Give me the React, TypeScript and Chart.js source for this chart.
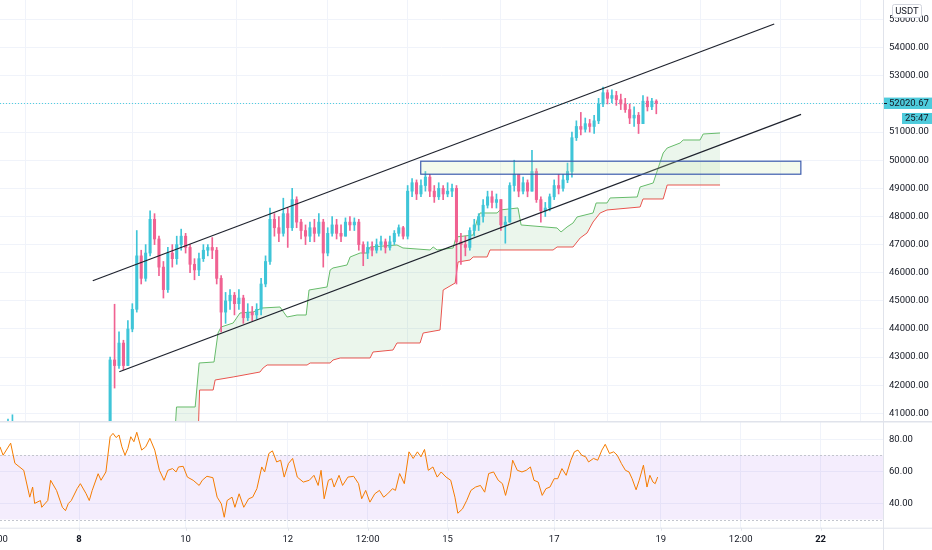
import React, { useEffect, useRef } from 'react';
import { Chart, registerables } from 'chart.js';

Chart.register(...registerables);

// ---------- candles (2-hour bars, hour 0 = day 8 00:00) ----------
const FIRST_HOUR = -36;
const HOUR_STEP = 2;
const FIRST_OPEN = 40200;
const closes = [
  40300, 40450, 40600, 40700, 40200, 39900, 39500, 39200, 39300, 38900,
  38500, 38800, 39100, 38600, 38300, 38700, 39000, 38600, 38300, 38500,
  38900, 38700, 38900, 39200, 39600, 42900, 42700, 43500, 42700, 44000,
  44700, 46600, 45800, 46700, 47900, 47200, 46200, 45400, 46700, 46500,
  47000, 47300, 46900, 46300, 46100, 46500, 46800, 46900, 46800, 45800,
  44600, 45000, 45200, 44900, 45100, 44400, 44600, 44500, 44700, 45600,
  46400, 47900, 47600, 47400, 48100, 47600, 48600, 47800, 47500, 47300,
  47600, 47400, 47800, 46700, 47400, 47700, 47400, 47300, 47800, 47700,
  47800, 47000, 46700, 46900, 46800, 47000, 47100, 46900, 47100, 47400,
  47600, 47300, 48900, 49200, 48800, 49100, 49400, 48900, 48700, 49000,
  48800, 48900, 49000, 47100, 47000, 46900, 47500, 47700, 48000, 48400,
  48700, 48500, 48600, 47700, 47800, 49100, 49500, 48900, 49200, 48900,
  49600, 48600, 48200, 48300, 48700, 49100, 49000, 49300, 49600, 50800,
  51200, 51100, 51300, 51200, 51400, 52000, 52400, 52200, 52300, 52150,
  52000, 51800, 51500, 51600, 51300, 52100, 51900, 52100, 52020.67,
];
const highs = [
  40550, 40600, 40800, 40950, 40720, 40300, 39950, 39600, 39500, 39400,
  39000, 39000, 39300, 39200, 38700, 38900, 39200, 39100, 38700, 38700,
  39100, 39000, 39300, 39500, 40000, 43000, 44880, 43900, 43600, 44300,
  44900, 47500, 46800, 47000, 48200, 48100, 47300, 46400, 46900, 47000,
  47300, 47550, 47400, 47000, 46500, 46700, 47000, 47000, 47250, 46900,
  45900, 45300, 45400, 45300, 45400, 45200, 44900, 44800, 44900, 45800,
  46600, 48300, 48100, 48000, 48650, 48300, 49000, 48700, 47900, 47700,
  47800, 47900, 48100, 47900, 47600, 48000, 47900, 47700, 47950, 48000,
  47950, 47900, 47100, 47100, 47100, 47200, 47300, 47200, 47300, 47500,
  47700, 47650, 49100, 49350, 49300, 49300, 49600, 49500, 49100, 49200,
  49100, 49200, 49150, 49100, 47400, 47300, 47600, 47900, 48100, 48600,
  48900, 48900, 48800, 48600, 48000, 49200, 50000, 49500, 49400, 49300,
  50350, 49700, 48700, 48500, 48800, 49300, 49500, 49500, 49900, 51000,
  51400, 51700, 51500, 51450, 51600, 52200, 52600, 52500, 52500, 52450,
  52350, 52200, 52000, 51900, 51700, 52300, 52250, 52200, 52150,
];
const lows = [
  40100, 40200, 40350, 40450, 40000, 39700, 39300, 38900, 38800, 38600,
  38200, 38300, 38700, 38400, 37900, 38100, 38600, 38300, 37990, 38100,
  38400, 38400, 38600, 38800, 39000, 39500, 41900, 42600, 42550, 42700,
  43900, 44600, 45600, 45700, 46600, 47000, 45900, 45100, 45300, 46200,
  46300, 46800, 46700, 46000, 45750, 45900, 46400, 46600, 46500, 45600,
  43900, 44200, 44700, 44500, 44700, 44200, 44300, 44300, 44350, 44500,
  45500, 46300, 47300, 47100, 47300, 46900, 47500, 47600, 47200, 47000,
  47100, 47100, 47300, 46200, 46600, 47300, 47200, 47100, 47300, 47500,
  47500, 46800, 46250, 46500, 46600, 46700, 46800, 46700, 46800, 47000,
  47300, 47200, 47200, 48700, 48600, 48700, 48900, 48700, 48500, 48600,
  48600, 48700, 48700, 45600, 46300, 46600, 46800, 47300, 47500, 47800,
  48300, 48300, 48300, 47500, 47050, 47800, 48900, 48700, 48800, 48700,
  48900, 48500, 47800, 48000, 48200, 48600, 48800, 48900, 49200, 49400,
  50700, 50900, 51000, 51000, 50950, 51300, 51900, 52000, 52050, 51950,
  51800, 51700, 51300, 51200, 50950, 51300, 51750, 51800, 51650,
];

// ---------- Ichimoku cloud (leading spans) ----------
const spanAHours = [
  43.2, 43.9, 52.3, 54.1, 60.8, 62.6, 64, 69.4, 72.5, 78.4,
  82.4, 90.5, 93.7, 98.2, 102.3, 103.6, 111.7, 113.1, 114.4, 120.7,
  122.1, 126.6, 129.7, 131.1, 143.2, 145.9, 158.1, 159.5, 161.3, 168.5,
  169.8, 177.5, 179.3, 180.6, 188.3, 189.6, 197.7, 199.1, 215.3, 217.1,
  219.8, 222.5, 224.3, 231.5, 232.9, 237.8, 239.2, 251.4, 252.7, 258.6,
  263.1, 264.9, 270.7, 272.1, 279.7, 281.1, 288.7,
];
const spanAValues = [
  40300, 41227, 41227, 42791, 42827, 43857, 44071, 44213, 44568, 44604,
  44746, 44782, 44426, 44497, 44497, 45386, 45493, 46098, 46169, 46275,
  46560, 46702, 46702, 46915, 46987, 46880, 46809, 46915, 46809, 46880,
  47271, 47342, 47875, 48124, 48124, 48231, 48302, 47698, 47591, 47449,
  47627, 47769, 47982, 48124, 48480, 48480, 48658, 48693, 49049, 49191,
  50257, 50434, 50612, 50719, 50719, 50932, 50968,
];
const spanBHours = [
  43.2, 53.6, 54.3, 60.4, 61.3, 69.4, 81.5, 82.9, 84.7, 102.7,
  104.1, 113.1, 114.4, 117.6, 131.1, 132.4, 141.4, 143.2, 153.6, 155,
  162.6, 164, 169.4, 170.7, 176.1, 177.5, 183.8, 185.1, 213.5, 215.3,
  222.5, 225.7, 228.8, 231.5, 234.7, 237.8, 252.7, 254, 263.1, 264.9,
  288.7,
];
const spanBValues = [
  39900, 40100, 41831, 41831, 42187, 42294, 42471, 42614, 42720, 42720,
  42791, 42791, 42898, 42969, 42969, 43182, 43253, 43502, 43502, 43857,
  43964, 45386, 45635, 46382, 46453, 46560, 46560, 46809, 46809, 46915,
  46915, 47235, 47413, 47804, 48124, 48231, 48337, 48622, 48622, 49119,
  49119,
];

// ---------- RSI ----------
const rsiHours = [
  -35.6, -34.2, -30.8, -28.9, -24.9, -22.2, -20.9, -20.0, -17.4, -16.8,
  -14.1, -12.8, -10.1, -7.5, -6.1, -4.8, -3.5, -0.8, 0.6, 3.2,
  4.6, 5.9, 8.6, 9.9, 12.1, 14.0, 15.3, 16.7, 18.0, 19.3,
  20.7, 22.0, 23.3, 24.7, 26.0, 28.2, 30.0, 31.9, 34.1, 36.2,
  38.3, 40.0, 42.1, 43.7, 44.8, 46.9, 48.8, 51.4, 54.1, 55.5,
  57.6, 60.3, 62.2, 64.1, 65.4, 66.7, 68.9, 70.2, 72.1, 74.2,
  76.4, 78.2, 80.1, 82.3, 83.6, 85.5, 87.1, 89.0, 90.8, 92.4,
  94.3, 96.2, 98.3, 101.0, 103.7, 105.8, 107.7, 109.0, 110.4, 112.3,
  113.8, 114.9, 117.1, 118.7, 121.1, 123.7, 125.9, 127.3, 129.1, 131.0,
  133.2, 135.3, 137.2, 139.0, 141.2, 142.5, 144.4, 146.5, 148.6, 150.5,
  152.4, 154.0, 155.6, 157.3, 159.4, 161.3, 163.1, 165.3, 167.4, 169.3,
  170.6, 172.7, 174.6, 176.5, 178.6, 180.8, 182.7, 184.5, 186.7, 188.8,
  190.7, 192.1, 194.2, 195.3, 197.4, 199.5, 201.4, 203.3, 204.9, 206.8,
  208.6, 210.3, 212.1, 214.0, 215.6, 217.5, 219.4, 221.5, 223.1, 224.7,
  226.4, 228.2, 229.5, 231.7, 233.6, 235.5, 237.0, 238.9, 240.8, 242.4,
  244.3, 246.1, 247.7, 249.1, 250.9, 252.3, 254.2, 255.8, 257.1, 258.5,
  259.5, 260.6,
];
const rsiValues = [
  75.2, 70, 77.5, 65, 60.6, 43.9, 50.2, 40, 41.8, 37.6,
  41.8, 54.4, 48, 37.6, 35.5, 40, 41.8, 49.3, 52.3, 46,
  41.8, 48, 58.5, 54.4, 59.6, 81.5, 83.6, 81, 82.6, 75.2,
  70, 74.2, 81.5, 78.4, 84.3, 73.2, 75.2, 80.5, 73.2, 60.6,
  54.4, 60.6, 61.7, 59.6, 62.7, 63.1, 56.4, 54.4, 51.2, 54.4,
  56.9, 56, 43.9, 39.7, 31.4, 41.8, 43.9, 37.6, 46, 37.6,
  42.9, 43.9, 49.2, 62.7, 59.6, 71.1, 72.7, 65.8, 66.9, 56.4,
  64.8, 68, 56.4, 53.3, 54.4, 57.5, 51.2, 60.6, 42.9, 54.4,
  55.4, 50.2, 57.5, 51.2, 56.4, 56.9, 52.3, 42.9, 48.1, 40.8,
  46, 48.1, 43.9, 46, 49.2, 48.1, 58.6, 52.3, 72.1, 68,
  72.1, 69, 73.6, 60.6, 62.7, 56.4, 59.6, 56.4, 54.4, 43.9,
  33.9, 36.6, 41.8, 48.1, 50.2, 51.2, 47, 58.6, 59.6, 54.4,
  52.3, 45, 56.4, 66.9, 60.6, 59.6, 60.6, 62.7, 54.4, 53.3,
  45, 49.2, 50.2, 55.4, 55.4, 61.7, 57.5, 66.9, 72.1, 73.2,
  70, 69, 65.8, 68, 66.9, 73.2, 76.8, 71.1, 72.1, 70,
  64.8, 60.6, 59.6, 55.4, 48.5, 54.4, 63.8, 50.2, 57.5, 53.3,
  52.3, 56.4,
];

// ---------- drawings ----------
const trendUpper = [[6.17, 45717], [313.1, 54843]];
const trendLower = [[18.15, 42482], [325.2, 51632]];
const boxHours = [153.9, 325.1];
const boxPrices = [49503, 49965];

// ---------- axes ----------
const PRICE_TICKS = [41000, 42000, 43000, 44000, 45000, 46000, 47000, 48000, 49000, 50000, 51000, 52000, 53000, 54000, 55000];
const RSI_TICKS = [40, 60, 80];
const TIME_TICK_HOURS = [-37.4, 0, 48, 94, 130, 166, 214, 262, 298, 334];
const TIME_TICK_LABELS = ['12:00', '8', '10', '12', '12:00', '15', '17', '19', '12:00', '22'];
const BOLD_LABELS = ['8', '22'];
const GRID_HOURS = [0, 48, 94, 130, 166, 214, 262, 298, 334];
const COUNTDOWN = '25:47';
const CURRENCY = 'USDT';

const X_MIN = -35.6;
const X_MAX = 362.1;
const P_MIN = 40729;
const P_MAX = 55696;
const R_MIN = 24.9;
const R_MAX = 91.3;

const UP = '#3fc5d8';
const DOWN = '#f06292';
const FONT = 'Roboto, "Noto Sans", sans-serif';
const TEXT = '#131722';
const GRID = '#f0f3fa';
const BORDER = '#e0e3eb';

export default function App() {
  const mainRef = useRef<HTMLCanvasElement>(null);
  const rsiRef = useRef<HTMLCanvasElement>(null);

  useEffect(() => {
    const hours = closes.map((_, i) => FIRST_HOUR + i * HOUR_STEP);
    const opens = closes.map((_, i) => (i === 0 ? FIRST_OPEN : closes[i - 1]));
    const colors = closes.map((c, i) => (c >= opens[i] ? UP : DOWN));
    const lastClose = closes[closes.length - 1];

    const bodies = hours.map((h, i) => ({ x: h, y: [opens[i], closes[i]] }));
    const wicks = hours.map((h, i) => ({ x: h, y: [lows[i], highs[i]] }));

    const mainPlugin = {
      id: 'mainDecor',
      beforeDatasetsDraw(chart: any) {
        const { ctx, chartArea, scales } = chart;
        const py = Math.round(scales.y.getPixelForValue(lastClose)) + 0.5;
        ctx.save();
        ctx.strokeStyle = '#4fcfdf';
        ctx.lineWidth = 1;
        ctx.setLineDash([1, 2]);
        ctx.beginPath();
        ctx.moveTo(chartArea.left, py);
        ctx.lineTo(chartArea.right, py);
        ctx.stroke();
        ctx.restore();
      },
      afterDatasetsDraw(chart: any) {
        const { ctx, scales } = chart;
        const x1 = scales.x.getPixelForValue(boxHours[0]);
        const x2 = scales.x.getPixelForValue(boxHours[1]);
        const y1 = scales.y.getPixelForValue(boxPrices[1]);
        const y2 = scales.y.getPixelForValue(boxPrices[0]);
        ctx.save();
        ctx.fillStyle = 'rgba(200,232,175,0.22)';
        ctx.fillRect(x1, y1, x2 - x1, y2 - y1);
        ctx.strokeStyle = '#3d5cae';
        ctx.lineWidth = 1.2;
        ctx.strokeRect(x1, y1, x2 - x1, y2 - y1);
        ctx.restore();
      },
      afterDraw(chart: any) {
        const { ctx, chartArea, scales } = chart;
        ctx.save();
        ctx.font = `9.5px ${FONT}`;
        ctx.fillStyle = TEXT;
        ctx.textAlign = 'left';
        ctx.textBaseline = 'middle';
        PRICE_TICKS.forEach((v) => {
          ctx.fillText(v.toFixed(2), chartArea.right + 6, scales.y.getPixelForValue(v));
        });
        // currency box
        ctx.fillStyle = '#ffffff';
        ctx.strokeStyle = '#d1d4dc';
        ctx.lineWidth = 1;
        ctx.beginPath();
        if ((ctx as any).roundRect) (ctx as any).roundRect(892.5, 4.5, 29, 13, 2);
        else ctx.rect(892.5, 4.5, 29, 13);
        ctx.fill();
        ctx.stroke();
        ctx.fillStyle = TEXT;
        ctx.textAlign = 'center';
        ctx.fillText(CURRENCY, 907, 11.5);
        // price label
        const py = scales.y.getPixelForValue(lastClose);
        ctx.fillStyle = '#4ecbdc';
        ctx.fillRect(chartArea.right + 1, py - 5.8, 932 - chartArea.right - 1, 11.4);
        ctx.fillRect(902, py + 9.6, 30, 11);
        ctx.strokeStyle = TEXT;
        ctx.beginPath();
        ctx.moveTo(chartArea.right + 1, Math.round(py) + 0.5);
        ctx.lineTo(chartArea.right + 4, Math.round(py) + 0.5);
        ctx.stroke();
        ctx.fillStyle = TEXT;
        ctx.textAlign = 'left';
        ctx.fillText(lastClose.toFixed(2), chartArea.right + 6, py);
        ctx.fillText(COUNTDOWN, 905, py + 15.2);
        ctx.restore();
      },
    };

    const mainChart = new Chart(mainRef.current as HTMLCanvasElement, {
      type: 'bar',
      data: {
        datasets: [
          {
            type: 'line',
            data: trendUpper.map(([x, y]) => ({ x, y })),
            borderColor: '#1e222d',
            borderWidth: 1.2,
            pointRadius: 0,
            clip: 0,
            order: 0,
          },
          {
            type: 'line',
            data: trendLower.map(([x, y]) => ({ x, y })),
            borderColor: '#1e222d',
            borderWidth: 1.2,
            pointRadius: 0,
            clip: 0,
            order: 0,
          },
          {
            type: 'bar',
            data: bodies,
            backgroundColor: colors,
            barThickness: 2.4,
            minBarLength: 1,
            grouped: false,
            borderWidth: 0,
            clip: 0,
            order: 1,
          },
          {
            type: 'bar',
            data: wicks,
            backgroundColor: colors,
            barThickness: 1,
            grouped: false,
            borderWidth: 0,
            clip: 0,
            order: 2,
          },
          {
            type: 'line',
            data: spanAHours.map((x, i) => ({ x, y: spanAValues[i] })),
            borderColor: '#66bb6a',
            borderWidth: 1,
            pointRadius: 0,
            fill: { target: 5, above: 'rgba(76,175,80,0.11)', below: 'rgba(244,67,54,0.08)' },
            clip: 0,
            order: 3,
          },
          {
            type: 'line',
            data: spanBHours.map((x, i) => ({ x, y: spanBValues[i] })),
            borderColor: '#ef5350',
            borderWidth: 1,
            pointRadius: 0,
            fill: false,
            clip: 0,
            order: 3,
          },
        ] as any,
      },
      options: {
        responsive: false,
        animation: false,
        events: [],
        layout: { padding: 0 },
        plugins: { legend: { display: false }, tooltip: { enabled: false } },
        scales: {
          x: {
            type: 'linear',
            min: X_MIN,
            max: X_MAX,
            offset: false,
            ticks: { display: false },
            grid: { color: GRID, drawTicks: false },
            border: { display: false },
            afterBuildTicks: (s: any) => {
              s.ticks = GRID_HOURS.map((v) => ({ value: v }));
            },
            afterFit: (s: any) => {
              s.height = 0;
            },
          },
          y: {
            type: 'linear',
            position: 'right',
            min: P_MIN,
            max: P_MAX,
            ticks: { display: false },
            grid: { color: GRID, drawTicks: false },
            border: { display: true, color: BORDER },
            afterBuildTicks: (s: any) => {
              s.ticks = PRICE_TICKS.map((v) => ({ value: v }));
            },
            afterFit: (s: any) => {
              s.width = 49;
            },
          },
        },
      } as any,
      plugins: [mainPlugin],
    });

    const rsiPlugin = {
      id: 'rsiDecor',
      beforeDatasetsDraw(chart: any) {
        const { ctx, chartArea, scales } = chart;
        const y70 = scales.y.getPixelForValue(70);
        const y30 = scales.y.getPixelForValue(30);
        ctx.save();
        ctx.fillStyle = 'rgba(149,76,233,0.1)';
        ctx.fillRect(chartArea.left, y70, chartArea.right - chartArea.left, y30 - y70);
        ctx.strokeStyle = '#c3c6ce';
        ctx.lineWidth = 1;
        ctx.setLineDash([2, 2]);
        [y70, y30].forEach((yy) => {
          ctx.beginPath();
          ctx.moveTo(chartArea.left, Math.round(yy) + 0.5);
          ctx.lineTo(chartArea.right, Math.round(yy) + 0.5);
          ctx.stroke();
        });
        ctx.restore();
      },
      afterDraw(chart: any) {
        const { ctx, chartArea, scales, width, height } = chart;
        ctx.save();
        // separators
        ctx.fillStyle = BORDER;
        ctx.fillRect(0, 0, width, 1.5);
        ctx.fillRect(0, chartArea.bottom, width, 1);
        ctx.fillRect(chartArea.right, 0, 1, height);
        ctx.font = `9.5px ${FONT}`;
        ctx.fillStyle = TEXT;
        ctx.textAlign = 'left';
        ctx.textBaseline = 'middle';
        RSI_TICKS.forEach((v) => {
          ctx.fillText(v.toFixed(2), chartArea.right + 6, scales.y.getPixelForValue(v));
        });
        ctx.textAlign = 'center';
        TIME_TICK_HOURS.forEach((h, i) => {
          const px = scales.x.getPixelForValue(h);
          const lab = TIME_TICK_LABELS[i];
          ctx.fillStyle = BORDER;
          if (px > 0) ctx.fillRect(Math.round(px), chartArea.bottom, 1, 3);
          ctx.fillStyle = TEXT;
          ctx.font = `${BOLD_LABELS.includes(lab) ? 'bold ' : ''}9.5px ${FONT}`;
          ctx.fillText(lab, px, chartArea.bottom + 11.5);
        });
        ctx.restore();
      },
    };

    const rsiChart = new Chart(rsiRef.current as HTMLCanvasElement, {
      type: 'line',
      data: {
        datasets: [
          {
            data: rsiHours.map((x, i) => ({ x, y: rsiValues[i] })),
            borderColor: '#f57c00',
            borderWidth: 1,
            pointRadius: 0,
            fill: false,
            clip: 0,
          },
        ],
      },
      options: {
        responsive: false,
        animation: false,
        events: [],
        layout: { padding: 0 },
        plugins: { legend: { display: false }, tooltip: { enabled: false } },
        scales: {
          x: {
            type: 'linear',
            min: X_MIN,
            max: X_MAX,
            offset: false,
            ticks: { display: false },
            grid: { color: GRID, drawTicks: false },
            border: { display: false },
            afterBuildTicks: (s: any) => {
              s.ticks = GRID_HOURS.map((v) => ({ value: v }));
            },
            afterFit: (s: any) => {
              s.height = 22.3;
            },
          },
          y: {
            type: 'linear',
            position: 'right',
            min: R_MIN,
            max: R_MAX,
            ticks: { display: false },
            grid: { color: GRID, drawTicks: false },
            border: { display: false },
            afterBuildTicks: (s: any) => {
              s.ticks = RSI_TICKS.map((v) => ({ value: v }));
            },
            afterFit: (s: any) => {
              s.width = 49;
            },
          },
        },
      } as any,
      plugins: [rsiPlugin],
    });

    return () => {
      mainChart.destroy();
      rsiChart.destroy();
    };
  }, []);

  return (
    <div
      style={{
        position: 'absolute',
        left: 0,
        top: 0,
        width: 932,
        height: 550,
        overflow: 'hidden',
        background: '#ffffff',
      }}
    >
      <canvas ref={mainRef} width={932} height={421} style={{ display: 'block', width: 932, height: 421 }} />
      <canvas ref={rsiRef} width={932} height={129} style={{ display: 'block', width: 932, height: 129 }} />
    </div>
  );
}
